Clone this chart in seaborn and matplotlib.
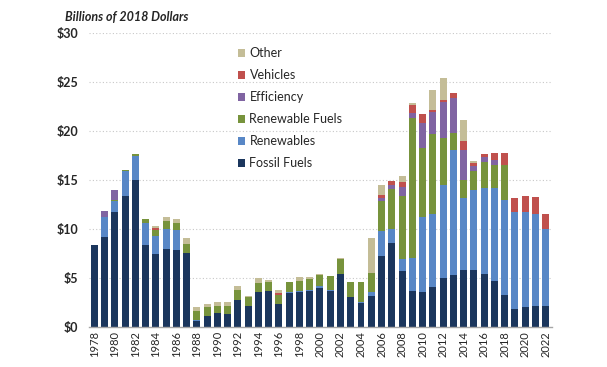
import numpy as np
import pandas as pd
import matplotlib
matplotlib.use("Agg")
import matplotlib.pyplot as plt
import seaborn as sns

years = list(range(1978, 2023))

fossil_fuels = [8.4, 9.2, 11.7, 13.4, 15.0, 8.4, 7.5, 8.0, 7.9, 7.6,
                0.6, 1.1, 1.45, 1.35, 2.8, 2.15, 3.6, 3.7, 2.3, 3.45,
                3.55, 3.65, 4.0, 3.65, 5.4, 3.1, 2.4, 3.15, 7.2, 8.6,
                5.75, 3.7, 3.6, 4.1, 5.05, 5.3, 5.8, 5.8, 5.4, 4.7,
                3.25, 1.8, 2.0, 2.15, 2.15]
renewables = [0.0, 2.05, 1.15, 2.55, 2.5, 2.25, 1.8, 2.05, 1.95, 0.0,
              0.15, 0.0, 0.0, 0.0, 0.0, 0.0, 0.0, 0.0, 0.0, 0.15,
              0.12, 0.15, 0.17, 0.12, 0.0, 0.0, 0.2, 0.45, 2.55, 1.37,
              1.22, 3.3, 7.6, 7.4, 9.4, 12.75, 7.4, 8.15, 8.75, 9.5,
              9.75, 9.95, 9.75, 9.4, 7.9]
renewable_fuels = [0.0, 0.0, 0.1, 0.1, 0.2, 0.35, 0.55, 0.75, 0.75, 0.9,
                   0.9, 0.9, 0.7, 0.8, 1.0, 0.95, 0.9, 0.9, 1.0, 1.0,
                   1.0, 1.05, 1.15, 1.4, 1.55, 1.5, 1.95, 1.9, 3.1, 4.08,
                   6.4, 14.3, 7.1, 8.2, 4.8, 1.7, 1.85, 2.0, 2.7, 2.35,
                   3.5, 0.0, 0.0, 0.0, 0.0]
efficiency = [0.0, 0.6, 1.0, 0.0, 0.0, 0.0, 0.0, 0.0, 0.0, 0.0,
              0.0, 0.0, 0.0, 0.0, 0.0, 0.0, 0.0, 0.0, 0.0, 0.0,
              0.0, 0.0, 0.0, 0.0, 0.0, 0.0, 0.0, 0.0, 0.35, 0.44,
              0.95, 0.5, 2.5, 2.2, 3.7, 3.65, 3.0, 0.5, 0.5, 0.5,
              0.0, 0.0, 0.0, 0.0, 0.0]
vehicles = [0.0, 0.0, 0.0, 0.0, 0.0, 0.0, 0.25, 0.0, 0.0, 0.0,
            0.0, 0.0, 0.0, 0.0, 0.0, 0.0, 0.0, 0.0, 0.15, 0.0,
            0.0, 0.0, 0.0, 0.0, 0.0, 0.0, 0.0, 0.0, 0.3, 0.41,
            0.5, 0.85, 0.9, 0.2, 0.25, 0.5, 0.9, 0.25, 0.3, 0.75,
            1.25, 1.45, 1.6, 1.7, 1.45]
other = [0.0, 0.0, 0.0, 0.0, 0.0, 0.0, 0.25, 0.4, 0.4, 0.55,
         0.35, 0.35, 0.45, 0.35, 0.35, 0.1, 0.45, 0.15, 0.35, 0.0,
         0.4, 0.25, 0.1, 0.0, 0.1, 0.0, 0.0, 3.55, 1.0, 0.0,
         0.58, 0.25, 0.0, 2.1, 2.25, 0.0, 2.2, 0.25, 0.0, 0.0,
         0.0, 0.0, 0.0, 0.0, 0.0]

categories = ["Other", "Vehicles", "Efficiency", "Renewable Fuels",
              "Renewables", "Fossil Fuels"]
series = {
    "Other": other,
    "Vehicles": vehicles,
    "Efficiency": efficiency,
    "Renewable Fuels": renewable_fuels,
    "Renewables": renewables,
    "Fossil Fuels": fossil_fuels,
}
colors = {
    "Other": "#C4BD97",
    "Vehicles": "#C0504D",
    "Efficiency": "#8064A2",
    "Renewable Fuels": "#77933C",
    "Renewables": "#5887C6",
    "Fossil Fuels": "#1B365D",
}

rows = []
for cat in categories:
    for y, v in zip(years, series[cat]):
        rows.append({"year": y, "category": cat, "value": v})
df = pd.DataFrame(rows)

sns.set_theme(style="white")
plt.rcParams["font.family"] = ["Lato", "DejaVu Sans"]

fig = plt.figure(figsize=(6.07, 3.67), dpi=100)
ax = fig.add_axes([0.147, 0.109, 0.762, 0.801])

sns.histplot(data=df, x="year", weights="value", hue="category",
             hue_order=categories, palette=colors, multiple="stack",
             discrete=True, shrink=0.68, linewidth=0, alpha=1,
             ax=ax, legend=True)

ax.set_xlim(1977.5, 2022.6)
ax.set_ylim(0, 30)
ax.set_yticks(range(0, 31, 5))
ax.set_yticklabels([f"${v}" for v in range(0, 31, 5)], fontweight="bold",
                   fontsize=9)
ax.set_xticks(list(range(1978, 2023, 2)))
ax.set_xticklabels([str(y) for y in range(1978, 2023, 2)], rotation=90,
                   fontsize=8)
ax.tick_params(axis="both", length=0, pad=3)
ax.tick_params(axis="y", pad=8)
ax.set_xlabel("")
ax.set_ylabel("")
for y in range(5, 31, 5):
    ax.axhline(y, color="#C8C8C8", lw=0.8, ls=(0, (1, 2)), zorder=0)
ax.set_axisbelow(True)
for s in ["left", "right", "top"]:
    ax.spines[s].set_visible(False)
ax.spines["bottom"].set_color("#A6A6A6")
ax.spines["bottom"].set_linewidth(1.0)

sns.move_legend(ax, loc="upper left", bbox_to_anchor=(0.31, 0.968),
                frameon=False, title=None, fontsize=9,
                handlelength=0.6, handleheight=0.6, handletextpad=0.35,
                labelspacing=0.8, borderaxespad=0)

fig.text(65 / 607, 1 - 17 / 367, "Billions of 2018 Dollars",
         fontsize=9, fontweight="bold", fontstyle="italic",
         ha="left", va="center")

fig.savefig("out.png", dpi=100)
